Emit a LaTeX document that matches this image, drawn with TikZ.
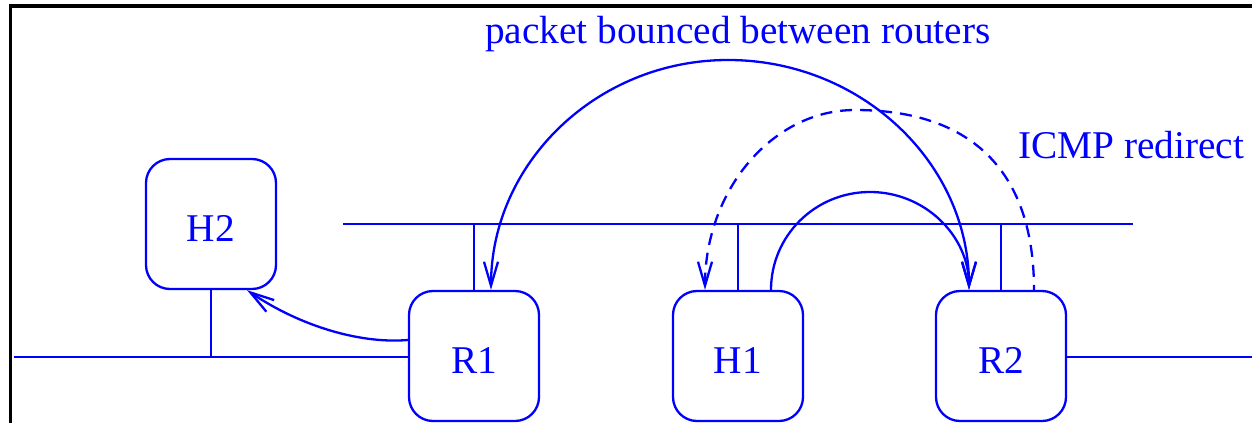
\documentclass[tikz,border=0pt]{standalone}
\usepackage{fontspec}
\setmainfont{Liberation Serif}
\usetikzlibrary{arrows.meta}
\begin{document}
\begin{tikzpicture}[x=1pt,y=-1pt,
  wire/.style={draw=blue,line width=2.3pt},
  box/.style={draw=blue,line width=2.3pt,rounded corners=24pt,minimum width=130pt,minimum height=130pt,
    inner sep=0pt,text=blue,font=\fontsize{39.3}{47}\selectfont,text height=35pt,text depth=0pt},
  lbl/.style={text=blue,font=\fontsize{39.3}{47}\selectfont,inner sep=0pt,anchor=base west},
  barb/.tip={Straight Barb[length=24pt,width=14pt]}]
\useasboundingbox (0,0) rectangle (1252,423);
% frame
\draw[line width=3.5pt] (10.5,423) -- (10.5,6) -- (1252,6);
% nodes
\node[box] (H2) at (211,224) {H2};
\node[box] (R1) at (474,356) {R1};
\node[box] (H1) at (738,356) {H1};
\node[box] (R2) at (1001,356) {R2};
% bus coordinates
\coordinate (ubL) at (343,224);
\coordinate (ubR) at (1133,224);
\coordinate (lbL) at (14,357);
\coordinate (lbR) at (1252,357);
% buses and stems
\draw[wire] (ubL) -- (ubR);
\draw[wire] (lbL) -- (lbL -| R1.west);
\draw[wire] (R2.east |- lbR) -- (lbR);
\draw[wire] (H2.south) -- (H2.south |- lbL);
\draw[wire] (R1.north) -- (R1.north |- ubL);
\draw[wire] (H1.north) -- (H1.north |- ubL);
\draw[wire] (R2.north) -- (R2.north |- ubL);
% curve peaks
\coordinate (pA) at (728,60);
\coordinate (pB) at (855,110);
\coordinate (pC) at (870,192);
% packet bounced between routers
\draw[wire,barb-barb] ([xshift=17pt]R1.north) .. controls +(0,-127) and +(-131,0) .. (pA)
  .. controls +(133,0) and +(0,-127) .. ([xshift=-32pt]R2.north);
% ICMP redirect
\draw[wire,dash pattern=on 12pt off 8pt,barb-] ([xshift=-33pt]H1.north) .. controls +(0,-99) and +(-83,0) .. (pB)
  .. controls +(120,0) and +(0,-115) .. ([xshift=33pt]R2.north);
% H1 -> R2
\draw[wire,-barb] ([xshift=33pt]H1.north) .. controls +(0,-54) and +(-55,0) .. (pC)
  .. controls +(55,0) and +(0,-54) .. ([xshift=-32pt]R2.north);
% R1 -> H2
\draw[wire,-barb] ([yshift=16pt]R1.west) .. controls (360,344) and (300,326) .. ([xshift=36pt]H2.south);
% labels
\node[lbl] (t1) at (485,43) {packet bounced between routers};
\node[lbl] (t2) at (1018,158) {ICMP redirect};
\end{tikzpicture}
\end{document}
